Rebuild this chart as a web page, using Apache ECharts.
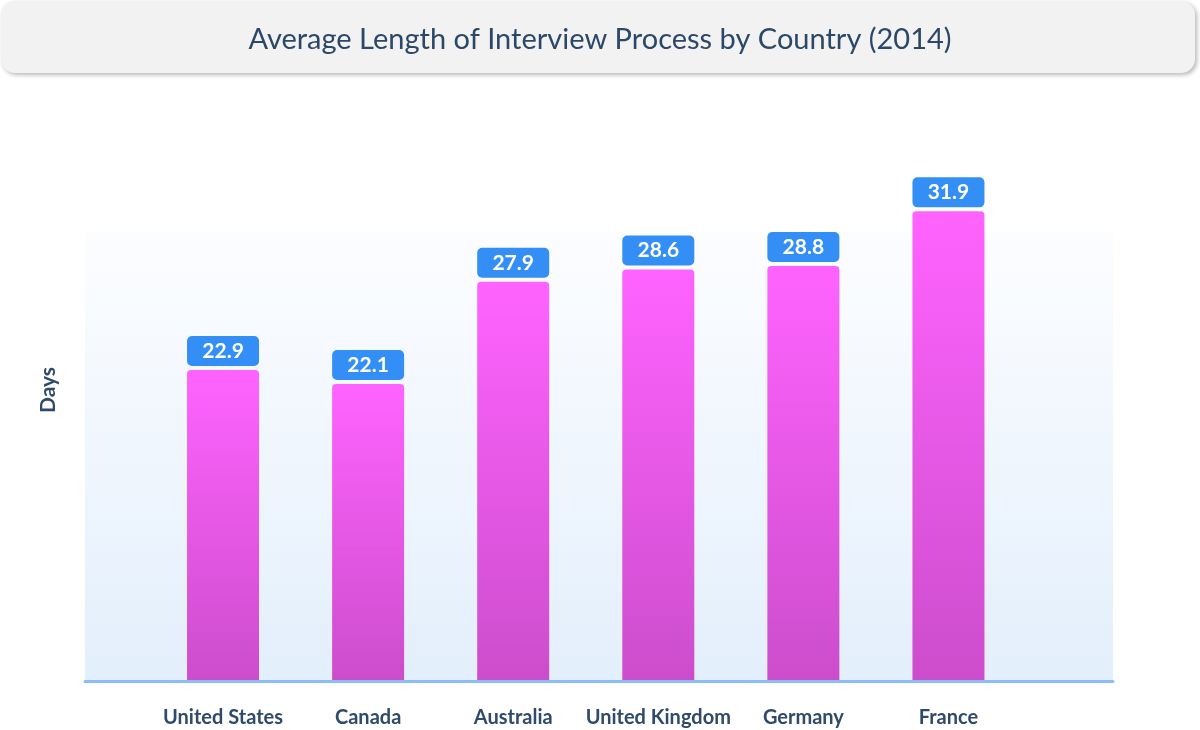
<!DOCTYPE html>
<html>
<head>
<meta charset="utf-8">
<script src="https://cdn.jsdelivr.net/npm/echarts@6/dist/echarts.min.js"></script>
<style>
html,body{margin:0;padding:0;background:#fff;}
#chart{width:1200px;height:730px;}
</style>
</head>
<body>
<div id="chart"></div>
<script>
const titleText = 'Average Length of Interview Process by Country (2014)';
const categories = ['United States', 'Canada', 'Australia', 'United Kingdom', 'Germany', 'France'];
const days = [22.9, 22.1, 27.9, 28.6, 28.8, 31.9];
const yAxisName = 'Days';

const FONT = 'Lato, "Open Sans", sans-serif';
const DARK = '#2f4a6a';

const chart = echarts.init(document.getElementById('chart'));
chart.setOption({
  animation: false,
  backgroundColor: '#ffffff',
  title: {
    text: titleText,
    left: 'center',
    top: 25,
    padding: 0,
    textStyle: { fontFamily: FONT, fontSize: 29, fontWeight: 'normal', color: '#2c4867' }
  },
  graphic: [{
    type: 'rect',
    z: -10,
    shape: { x: 1, y: 1, width: 1194, height: 72, r: 14 },
    style: { fill: '#f2f2f2', shadowBlur: 4, shadowColor: 'rgba(0,0,0,0.28)', shadowOffsetX: 2, shadowOffsetY: 2 }
  }],
  grid: [
    {
      left: 85, right: 87, top: 232, bottom: 48.5,
      show: true, borderWidth: 0,
      backgroundColor: new echarts.graphic.LinearGradient(0, 0, 0, 1, [
        { offset: 0, color: '#fcfdff' },
        { offset: 1, color: '#e3effc' }
      ])
    },
    { left: 150.5, right: 179, top: 100, bottom: 50 }
  ],
  xAxis: [
    {
      gridIndex: 0, type: 'value', min: 0, max: 1,
      axisLine: { show: true, onZero: false, lineStyle: { color: '#8dbdf5', width: 3 } },
      axisTick: { show: false }, axisLabel: { show: false }, splitLine: { show: false }
    },
    {
      gridIndex: 1, type: 'category', data: categories,
      axisLine: { show: false }, axisTick: { show: false },
      axisLabel: { interval: 0, margin: 28, fontFamily: FONT, fontSize: 20, fontWeight: 'bold', color: DARK }
    }
  ],
  yAxis: [
    { gridIndex: 0, type: 'value', show: false },
    {
      gridIndex: 1, type: 'value', min: 5.3, max: 38.22,
      name: yAxisName, nameLocation: 'middle', nameGap: 92, nameRotate: 90,
      nameTextStyle: { fontFamily: FONT, fontSize: 21, fontWeight: 'bold', color: DARK },
      axisLine: { show: false }, axisTick: { show: false }, axisLabel: { show: false }, splitLine: { show: false }
    }
  ],
  series: [{
    type: 'bar',
    xAxisIndex: 1, yAxisIndex: 1,
    data: days,
    barWidth: 72,
    clip: true,
    itemStyle: {
      borderRadius: [4, 4, 0, 0],
      color: new echarts.graphic.LinearGradient(0, 0, 0, 1, [
        { offset: 0, color: '#ff63ff' },
        { offset: 1, color: '#cc4dcc' }
      ])
    },
    label: {
      show: true, position: 'top', distance: 19,
      formatter: p => p.value.toFixed(1),
      backgroundColor: '#338ef5', borderRadius: 5,
      width: 72, height: 30, lineHeight: 30, padding: 0,
      align: 'center', verticalAlign: 'middle',
      color: '#ffffff', fontFamily: FONT, fontSize: 21, fontWeight: 'bold'
    }
  }]
});
</script>
</body>
</html>
